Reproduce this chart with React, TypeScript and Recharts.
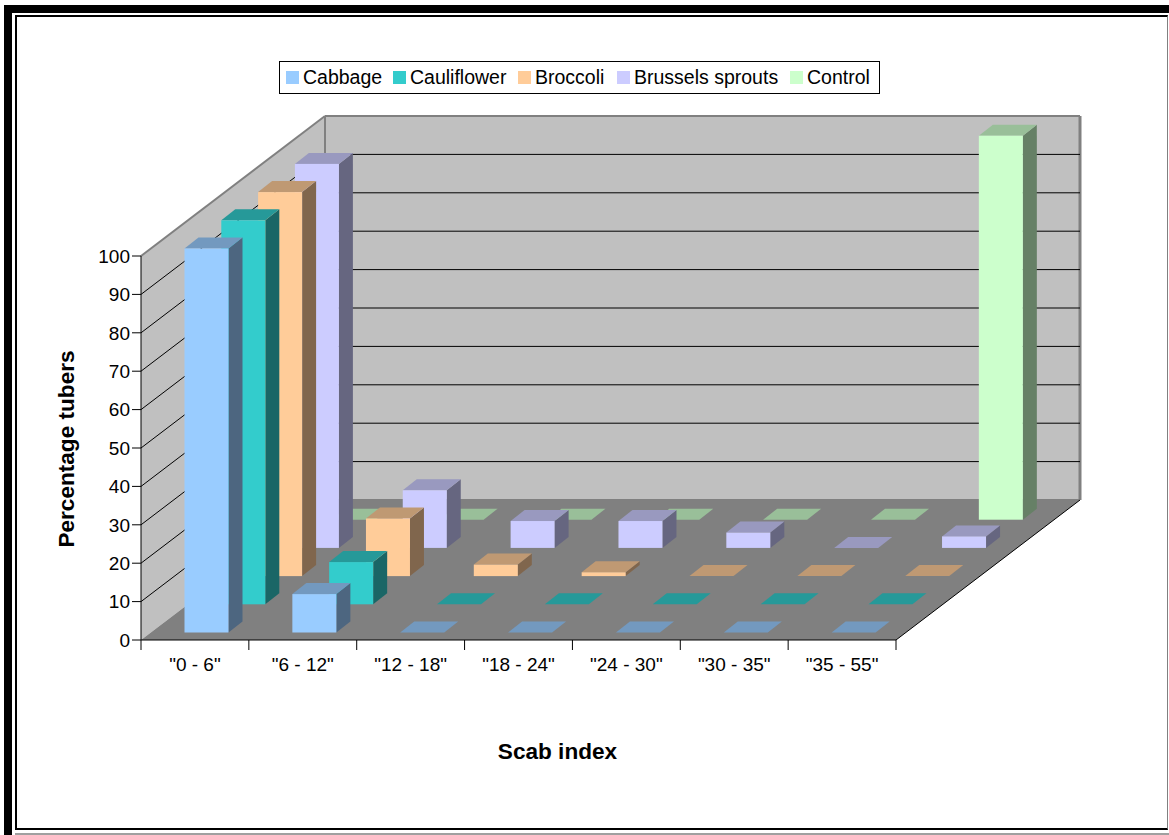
import React from "react";
import {
  BarChart,
  Bar,
  XAxis,
  YAxis,
  Legend,
  ReferenceArea,
} from "recharts";

// Scab index classes along the horizontal axis
const categories = ['"0 - 6"', '"6 - 12"', '"12 - 18"', '"18 - 24"', '"24 - 30"', '"30 - 35"', '"35 - 55"'];

// Percentage of tubers per class, one list per treatment
const cabbage = [100, 10, 0, 0, 0, 0, 0];
const cauliflower = [100, 11, 0, 0, 0, 0, 0];
const broccoli = [100, 15, 3, 1, 0, 0, 0];
const brusselsSprouts = [100, 15, 7, 7, 4, 0, 3];
const control = [0, 0, 0, 0, 0, 0, 100];

const yTicks = [0, 10, 20, 30, 40, 50, 60, 70, 80, 90, 100];
const wallGridValues = [10, 20, 30, 40, 50, 60, 70, 80, 90];

const seriesList = [
  { key: "Cabbage", values: cabbage, color: "#99CCFF", top: "#7399BF", side: "#4D6680", row: 0 },
  { key: "Cauliflower", values: cauliflower, color: "#33CCCC", top: "#269999", side: "#1A6666", row: 1 },
  { key: "Broccoli", values: broccoli, color: "#FFCC99", top: "#BF9973", side: "#80664D", row: 2 },
  { key: "Brussels sprouts", values: brusselsSprouts, color: "#CCCCFF", top: "#9999BF", side: "#666680", row: 3 },
  { key: "Control", values: control, color: "#CCFFCC", top: "#99BF99", side: "#668066", row: 4 },
];

const rows = categories.map((name, i) => {
  const row: Record<string, string | number> = { name };
  seriesList.forEach((s) => {
    row[s.key] = s.values[i];
  });
  return row;
});

// Oblique projection of the box: full floor depth, depth of one bar, step between rows
const FLOOR_DX = 184;
const FLOOR_DY = 140;
const BAR_DX = 14;
const BAR_DY = 11;
const ROW_DX = 36.8;
const ROW_DY = 28.2;
const ROW_START_DX = 11.5;
const ROW_START_DY = 7.5;
const BAND = 755 / 7;

const FONT = '"Liberation Sans", Arial, sans-serif';

const Box = (props: any) => {
  const { x, y, width, height, row, color, top, side } = props;
  const sx = x + ROW_START_DX + row * ROW_DX;
  const ty = y - ROW_START_DY - row * ROW_DY;
  const by = ty + height;
  const rx = sx + width;
  return (
    <g>
      <polygon
        points={`${rx},${ty} ${rx + BAR_DX},${ty - BAR_DY} ${rx + BAR_DX},${by - BAR_DY} ${rx},${by}`}
        fill={side}
      />
      <polygon
        points={`${sx},${ty} ${sx + BAR_DX},${ty - BAR_DY} ${rx + BAR_DX},${ty - BAR_DY} ${rx},${ty}`}
        fill={top}
      />
      {height > 0 && <rect x={sx} y={ty} width={width} height={height} fill={color} />}
    </g>
  );
};

// Left wall, back wall and floor of the box, derived from the plot rectangle
const Walls = (props: any) => {
  const { x, y, width, height } = props;
  const b = y + height;
  const r = x + width;
  const wallEdge = { stroke: "#808080", strokeWidth: 2 };
  return (
    <g>
      <polygon
        points={`${x},${y} ${x + FLOOR_DX},${y - FLOOR_DY} ${x + FLOOR_DX},${b - FLOOR_DY} ${x},${b}`}
        fill="#C0C0C0"
      />
      <rect x={x + FLOOR_DX} y={y - FLOOR_DY} width={width} height={height} fill="#C0C0C0" />
      <polygon
        points={`${x},${b} ${x + FLOOR_DX},${b - FLOOR_DY} ${r + FLOOR_DX},${b - FLOOR_DY} ${r},${b}`}
        fill="#808080"
      />
      <line x1={x} y1={y} x2={x + FLOOR_DX} y2={y - FLOOR_DY} {...wallEdge} />
      <line x1={x + FLOOR_DX} y1={y - FLOOR_DY} x2={r + FLOOR_DX} y2={y - FLOOR_DY} {...wallEdge} />
      <line x1={x + FLOOR_DX} y1={y - FLOOR_DY} x2={x + FLOOR_DX} y2={b - FLOOR_DY} {...wallEdge} />
      <line x1={r + FLOOR_DX} y1={y - FLOOR_DY} x2={r + FLOOR_DX} y2={b - FLOOR_DY} stroke="#808080" strokeWidth={3} />
      <line x1={x + FLOOR_DX} y1={b - FLOOR_DY} x2={r + FLOOR_DX} y2={b - FLOOR_DY} {...wallEdge} />
      <line x1={r} y1={b} x2={r + FLOOR_DX} y2={b - FLOOR_DY} stroke="#000" strokeWidth={1} />
    </g>
  );
};

// A horizontal grid line continues up the left wall and across the back wall
const WallGridLine = (props: any) => {
  const { x, y, width } = props;
  const wallX = x + FLOOR_DX;
  const wallY = y - FLOOR_DY;
  return (
    <g>
      <line x1={x} y1={y} x2={wallX} y2={wallY} stroke="#000" strokeWidth={1} />
      <line x1={wallX} y1={wallY} x2={wallX + width} y2={wallY} stroke="#000" strokeWidth={1} />
    </g>
  );
};

// Category label, with tick marks on the band edges rather than the band centre
const CategoryTick = (props: any) => {
  const { x, y, payload, index } = props;
  const left = x - BAND / 2;
  const right = x + BAND / 2;
  return (
    <g>
      <line x1={left} y1={640} x2={left} y2={650} stroke="#000" />
      {index === categories.length - 1 && <line x1={right} y1={640} x2={right} y2={650} stroke="#000" />}
      <text x={x} y={y + 23} textAnchor="middle" fontSize={19} fontFamily={FONT} fill="#000">
        {payload.value}
      </text>
    </g>
  );
};

const LegendBox = () => (
  <div
    style={{
      position: "absolute",
      left: 279,
      top: 61,
      width: 601,
      height: 33,
      boxSizing: "border-box",
      border: "1px solid #000",
      background: "#fff",
      fontFamily: FONT,
      fontSize: 19.5,
      color: "#000",
      whiteSpace: "nowrap",
    }}
  >
    {seriesList.map((s, i) => {
      const swatchLeft = [6, 113, 238, 337, 510][i];
      return (
        <React.Fragment key={s.key}>
          <span
            style={{ position: "absolute", left: swatchLeft, top: 9, width: 13, height: 13, background: s.color }}
          />
          <span style={{ position: "absolute", left: swatchLeft + 17, top: 4, lineHeight: "22px" }}>{s.key}</span>
        </React.Fragment>
      );
    })}
  </div>
);

export default function App() {
  const backToFront = [...seriesList].reverse();
  return (
    <div style={{ position: "absolute", left: 0, top: 0, width: 1169, height: 835, background: "#fff", overflow: "hidden" }}>
      {/* Heavy frame along the top and left, thin rule around the chart area */}
      <div style={{ position: "absolute", left: 4, top: 5, width: 1165, height: 8, background: "#000" }} />
      <div style={{ position: "absolute", left: 4, top: 5, width: 8, height: 830, background: "#000" }} />
      <div
        style={{
          position: "absolute",
          left: 15,
          top: 15,
          width: 1153,
          height: 815,
          boxSizing: "border-box",
          borderTop: "2px solid #000",
          borderLeft: "2px solid #000",
          borderBottom: "2px solid #000",
          borderRight: "1px solid #808080",
        }}
      />
      <div style={{ position: "absolute", left: 15, top: 833, width: 1154, height: 2, background: "#A0A0A0" }} />
      <div style={{ position: "absolute", left: 0, top: 0 }}>
        <BarChart
          width={1169}
          height={835}
          data={rows}
          margin={{ top: 256, right: 273, bottom: 165, left: 81 }}
          barSize={44}
          barGap={-44}
          style={{ background: "transparent" }}
        >
          <ReferenceArea y1={0} y2={100} shape={<Walls />} ifOverflow="visible" stroke="none" />
          {wallGridValues.map((v) => (
            <ReferenceArea key={v} y1={v} y2={v} ifOverflow="visible" stroke="none" shape={<WallGridLine />} />
          ))}
          <XAxis
            dataKey="name"
            height={30}
            interval={0}
            tickLine={false}
            tick={<CategoryTick />}
            axisLine={{ stroke: "#000" }}
            label={{
              value: "Scab index",
              position: "bottom",
              offset: 73,
              dx: 39,
              style: { fontFamily: FONT, fontSize: 22.6, fontWeight: 700, fill: "#000" },
            }}
          />
          <YAxis
            width={60}
            domain={[0, 100]}
            ticks={yTicks}
            interval={0}
            tickSize={9}
            tickMargin={2}
            tickLine={{ stroke: "#000" }}
            axisLine={{ stroke: "#000" }}
            tick={{ fontFamily: FONT, fontSize: 19, fill: "#000" }}
            label={{
              value: "Percentage tubers",
              angle: -90,
              position: "left",
              offset: 15,
              dy: 1,
              style: { fontFamily: FONT, fontSize: 22.6, fontWeight: 700, fill: "#000", textAnchor: "middle" },
            }}
          />
          <Legend verticalAlign="middle" layout="horizontal" content={() => null} />
          {backToFront.map((s) => (
            <Bar
              key={s.key}
              dataKey={s.key}
              isAnimationActive={false}
              fill={s.color}
              shape={<Box row={s.row} color={s.color} top={s.top} side={s.side} />}
            />
          ))}
        </BarChart>
      </div>
      <LegendBox />
    </div>
  );
}
